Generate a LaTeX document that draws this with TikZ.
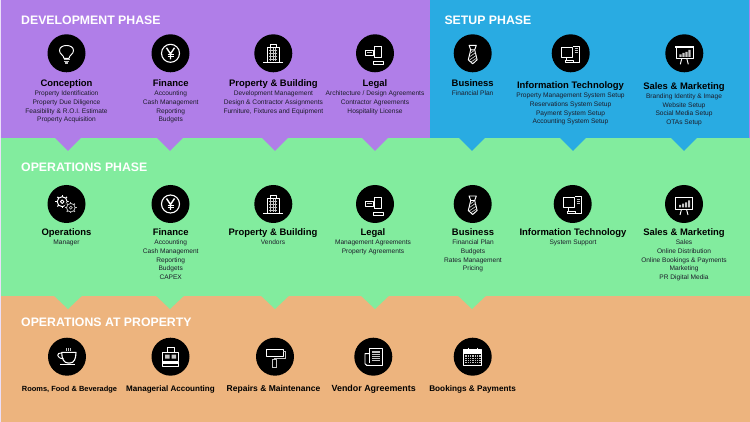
\documentclass[tikz,border=0pt]{standalone}
\usepackage{fontspec}
\setmainfont{Liberation Sans}
\usetikzlibrary{calc}
\definecolor{phpurple}{HTML}{B07EE8}
\definecolor{phblue}{HTML}{29ABE2}
\definecolor{phgreen}{HTML}{82EC9E}
\definecolor{phorange}{HTML}{EDB47E}
\definecolor{subtext}{HTML}{1C1C2A}
\definecolor{icongrey}{HTML}{C4C4C4}
\tikzset{
  x=1pt,y=-1pt,
  band/.style={fill=#1,draw=none},
  phasetitle/.style={anchor=base west,text=white,inner sep=0pt,font=\bfseries\fontsize{12.3}{15}\selectfont},
  headlabel/.style={anchor=base,inner sep=0pt,text=black,font=\bfseries\fontsize{9.45}{12}\selectfont},
  sublabel/.style={inner sep=0pt,anchor=north,align=center,text=subtext,font=\fontsize{6.6}{8.67}\selectfont},
  iconbadge/.style={circle,fill=black,draw=none,minimum size=38pt,inner sep=0pt},
  ic/.style={draw=white,line width=0.95pt,line join=round},
  icg/.style={draw=icongrey,line width=0.7pt},
  bulb/.pic={
    \draw[ic] (-2.6,5) .. controls (-2.8,1.5) and (-7,1) .. (-7,-2.8) .. controls (-7,-9.5) and (7,-9.5) .. (7,-2.8) .. controls (7,1) and (2.8,1.5) .. (2.6,5) -- cycle;
    \draw[icg,line width=1.2pt] (-3,6.4)--(3,6.4) (-2.6,8.2)--(2.6,8.2) (-1.6,9.8)--(1.6,9.8);
  },
  yen/.pic={
    \draw[ic,line width=1.1pt] (0,0) circle[radius=9];
    \draw[ic,line width=1.4pt] (-4,-5.5)--(0,0.5)--(4,-5.5) (0,0.5)--(0,6);
    \draw[ic,line width=.6pt] (-3,1.5)--(3,1.5) (-3,3.5)--(3,3.5);
  },
  tower/.pic={
    \draw[ic] (-10,9)--(10,9);
    \draw[ic] (-6,9)--(-6,-6)--(6,-6)--(6,9);
    \draw[ic,line width=.6pt] (-3,-6)--(-3,-9)--(3,-9)--(3,-6);
    \foreach \q in {-2.5,0,2.5}{\draw[icg] (\q,-5)--(\q,8);}
    \foreach \q in {-3,0,3,6}{\draw[icg,line width=.4pt] (-4,\q)--(4,\q);}
  },
  gavel/.pic={
    \draw[ic] (-10,-3) rectangle (-1.7,2);
    \draw[icg] (-8,-.5)--(-3,-.5);
    \draw[ic] (-0.7,-7) rectangle (6.7,4.3);
    \draw[ic] (-1.7,8) rectangle (8.3,11);
  },
  tie/.pic={
    \draw[ic] (-3.6,-8)--(3.6,-8)--(2,-3.5)--(-2,-3.5)--cycle;
    \draw[ic] (-2,-3.5)--(-4.4,6.5)--(0,10.5)--(4.4,6.5)--(2,-3.5);
    \draw[icg] (-2.5,0)--(1.8,-3) (-3.3,3.6)--(3,-.8) (-3.6,7)--(3.7,2) (-1.5,8.5)--(4,4.8);
  },
  computer/.pic={
    \draw[ic] (-9.3,-6.3) rectangle (1.3,3.7);
    \draw[ic] (-4,3.7)--(-4,7);
    \draw[ic] (-5.3,7) rectangle (2.3,9.3);
    \draw[ic] (2.3,-7.3)--(9,-7.3)--(9,9.3)--(2.3,9.3);
    \draw[icg] (4,-5)--(7.5,-5) (4,-3)--(7.5,-3) (4,-1)--(7.5,-1);
  },
  board/.pic={
    \draw[ic,line width=1.2pt] (-9,-6.3)--(9.3,-6.3);
    \draw[ic] (-8.3,-6.3) rectangle (8.7,5.3);
    \draw[ic] (-2.5,5.3)--(-4,11) (2.5,5.3)--(4,11);
    \fill[icongrey] (-5,1) rectangle (-2.8,3.5) (-2,-.3) rectangle (.2,3.5) (1,-1.5) rectangle (3.2,3.5) (4,-3.5) rectangle (6.2,3.5);
  },
  gears/.pic={
    \foreach \a in {0,45,...,315}{\draw[ic,line width=1.2pt] ($(-4.3,-2.3)+(\a:5)$)--($(-4.3,-2.3)+(\a:6.8)$);}
    \draw[ic] (-4.3,-2.3) circle[radius=5];
    \draw[ic] (-4.3,-2.3) circle[radius=1.8];
    \fill[black] (4.3,3.7) circle[radius=6.4];
    \foreach \a in {0,45,...,315}{\draw[icg,line width=1.2pt] ($(4.3,3.7)+(\a:4.3)$)--($(4.3,3.7)+(\a:5.7)$);}
    \draw[icg,line width=.8pt] (4.3,3.7) circle[radius=4.3];
    \draw[icg,line width=.7pt] (4.3,3.7) circle[radius=1.5];
  },
  cup/.pic={
    \draw[ic,line width=1.1pt] (-5.3,-4.3)--(9,-4.3) .. controls (9,2) and (7,6.3) .. (3,6.3) -- (1,6.3) .. controls (-3,6.3) and (-5.3,2) .. (-5.3,-4.3);
    \draw[ic] (-5,-3.8) .. controls (-11,-4.5) and (-11,1.5) .. (-3.5,2.2);
    \draw[ic] (-7,8)--(8,8);
    \draw[icg] (-.3,-8.7)--(-.3,-5.3) (1.5,-8.7)--(1.5,-5.3) (3.3,-8.7)--(3.3,-5.3);
  },
  register/.pic={
    \draw[ic] (-3.3,-4.3)--(-3.3,-9)--(4.3,-9)--(4.3,-4.3);
    \draw[ic] (-7.7,4.7)--(-7.7,-4.3)--(7.7,-4.3)--(7.7,4.7);
    \draw[ic] (-8.3,4.7) rectangle (8.3,9.7);
    \fill[white] (-8.3,5) rectangle (8.3,7);
    \fill[icongrey] (-5.5,-2.2) rectangle (-.8,2) (1,-2.2) rectangle (5.5,2);
    \draw[black,line width=.5pt] (-2,8.5)--(2,8.5);
  },
  roller/.pic={
    \draw[ic,line width=1.1pt] (-8.3,-7) rectangle (8.3,-.3);
    \draw[icg,line width=1pt] (8.3,-5)--(10.5,-5)--(10.5,1.3)--(-.3,1.3)--(-.3,2.5);
    \draw[icg,line width=.9pt] (-2.3,2.5) rectangle (1.7,10.7);
  },
  papers/.pic={
    \draw[ic] (-4,6)--(-4,-8.7)--(9.3,-8.7)--(9.3,8.7)--(-5.5,8.7);
    \draw[ic] (-4,-3)--(-8.3,-3)--(-8.3,7)--(-6.5,8.7)--(-4,8.7);
    \fill[icongrey] (-1.7,-5.4) rectangle (6.7,4.6);
    \foreach \q in {-4,-2,...,4}{\draw[black,line width=.3pt] (-1.7,\q)--(6.7,\q);}
  },
  calendar/.pic={
    \fill[white] (-9,-7) rectangle (9,-3);
    \draw[ic] (-9,-7) rectangle (9,8.7);
    \foreach \q in {-4.5,4.5}{\draw[ic] (\q,-9)--(\q,-5);}
    \fill[icongrey] (-7.8,-2) rectangle (7.8,7.6);
    \foreach \q in {-5.6,-3.4,...,6}{\draw[black,line width=.35pt] (\q,-2)--(\q,7.6);}
    \foreach \q in {0,2,...,6}{\draw[black,line width=.35pt] (-7.8,\q)--(7.8,\q);}
  },
}
% name, circle x, circle y, icon, text x, heading y, heading, sub lines
\newcommand{\hubitem}[8]{%
  \node[iconbadge] (#1) at (#2,#3) {};
  \pic at (#1.center) {#4};
  \node[headlabel] (#1h) at (#5,#6+3.5) {#7};
  \node[sublabel] (#1s) at (#5,#6+6.2) {\rule{0pt}{6pt}#8};
}
\begin{document}
\begin{tikzpicture}
\useasboundingbox (0,0) rectangle (750,422);
\fill[white!75!phpurple] (0,0) rectangle (750,422);
% bands
\fill[band=phpurple] (1,0) rectangle (750,138);
\fill[band=phblue] (430,0) rectangle (748.5,138);
\fill[band=phgreen] (1,138) rectangle (750,296);
\foreach \q in {68,170,275,375}{\fill[band=phpurple] (\q-13,137.8)--(\q+13,137.8)--(\q,151)--cycle;}
\foreach \q in {472,573,684}{\fill[band=phblue] (\q-13,137.8)--(\q+13,137.8)--(\q,151)--cycle;}
\fill[band=phorange] (1,296) rectangle (750,422);
\foreach \q in {68,170,275,375,472}{\fill[band=phgreen] (\q-14,295.8)--(\q+14,295.8)--(\q,309)--cycle;}
% titles
\node[phasetitle] (t1) at (21,24.2) {DEVELOPMENT PHASE};
\node[phasetitle] (t2) at (444.3,24.2) {SETUP PHASE};
\node[phasetitle] (t3) at (21,171.8) {OPERATIONS PHASE};
\node[phasetitle] (t4) at (21,326.5) {OPERATIONS AT PROPERTY};
% development
\hubitem{a1}{66.5}{53.3}{bulb}{66.5}{83.5}{Conception}{Property Identification\\Property Due Diligence\\Feasibility \& R.O.I. Estimate\\Property Acquisition}
\hubitem{a2}{170.5}{53.3}{yen}{170.7}{83.5}{Finance}{Accounting\\Cash Management\\Reporting\\Budgets}
\hubitem{a3}{273.3}{53.3}{tower}{273.4}{83.5}{Property \& Building}{Development Management\\Design \& Contractor Assignments\\Furniture, Fixtures and Equipment}
\hubitem{a4}{375}{53.3}{gavel}{375}{83.5}{Legal}{Architecture / Design Agreements\\Contractor Agreements\\Hospitality License}
% setup
\hubitem{b1}{472.7}{53.3}{tie}{472.7}{83.5}{Business}{Financial Plan}
\hubitem{b2}{570.7}{53.3}{computer}{570.5}{85.5}{Information Technology}{Property Management System Setup\\Reservations System Setup\\Payment System Setup\\Accounting System Setup}
\hubitem{b3}{684.3}{53.3}{board}{684}{86}{Sales \& Marketing}{Branding Identity \& Image\\Website Setup\\Social Media Setup\\OTAs Setup}
% operations
\hubitem{c1}{66.5}{204}{gears}{66.5}{232.5}{Operations}{Manager}
\hubitem{c2}{170.5}{204}{yen}{170.7}{232.5}{Finance}{Accounting\\Cash Management\\Reporting\\Budgets\\CAPEX}
\hubitem{c3}{273.3}{204}{tower}{273}{232.5}{Property \& Building}{Vendors}
\hubitem{c4}{375}{204}{gavel}{373}{232.5}{Legal}{Management Agreements\\Property Agreements}
\hubitem{c5}{472.7}{204}{tie}{473}{232.5}{Business}{Financial Plan\\Budgets\\Rates Management\\Pricing}
\hubitem{c6}{572.7}{204}{computer}{573}{232.5}{Information Technology}{System Support}
\hubitem{c7}{684}{204}{board}{684}{232.5}{Sales \& Marketing}{Sales\\Online Distribution\\Online Bookings \& Payments\\Marketing\\PR Digital Media}
% property
\tikzset{smallhead/.style={headlabel,font=\bfseries\fontsize{#1}{11}\selectfont}}
\node[iconbadge] (d1) at (67,356.7) {}; \pic at (d1.center) {cup};
\node[smallhead=7.45] (d1h) at (69.5,391.3) {Rooms, Food \& Beveradge};
\node[iconbadge] (d2) at (170.5,356.7) {}; \pic at (d2.center) {register};
\node[smallhead=8.05] (d2h) at (170.5,391.3) {Managerial Accounting};
\node[iconbadge] (d3) at (275,356.7) {}; \pic at (d3.center) {roller};
\node[smallhead=8.5] (d3h) at (273.5,391.3) {Repairs \& Maintenance};
\node[iconbadge] (d4) at (373.3,356.7) {}; \pic at (d4.center) {papers};
\node[smallhead=8.9] (d4h) at (373.7,391.3) {Vendor Agreements};
\node[iconbadge] (d5) at (472.7,356.7) {}; \pic at (d5.center) {calendar};
\node[smallhead=8.2] (d5h) at (472.6,391.3) {Bookings \& Payments};
\end{tikzpicture}
\end{document}
